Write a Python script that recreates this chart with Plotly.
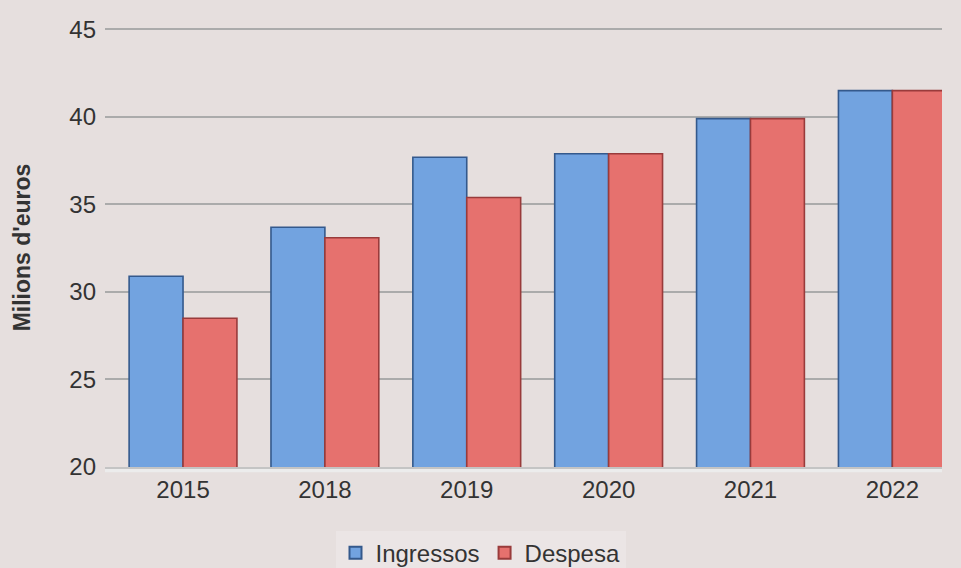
import plotly.graph_objects as go

years = ["2015", "2018", "2019", "2020", "2021", "2022"]
ingressos = [30.9, 33.7, 37.7, 37.9, 39.9, 41.5]
despesa = [28.5, 33.1, 35.4, 37.9, 39.9, 41.5]
y_ticks = [20, 25, 30, 35, 40, 45]

BG = "#e6dfde"
FONT = "Liberation Sans, Arial, sans-serif"

fig = go.Figure()
fig.add_trace(go.Bar(
    name="Ingressos", x=years, y=ingressos,
    marker=dict(color="#72a3e0", line=dict(color="#34598c", width=1.6)),
))
fig.add_trace(go.Bar(
    name="Despesa", x=years, y=despesa,
    marker=dict(color="#e6716e", line=dict(color="#993b3b", width=1.6)),
))

fig.update_layout(
    width=961, height=568,
    paper_bgcolor=BG, plot_bgcolor=BG,
    margin=dict(l=105, r=19, t=28, b=101, autoexpand=False),
    barmode="group", bargap=0.24, bargroupgap=0.0,
    font=dict(family=FONT, size=24, color="#333333"),
    showlegend=True,
    legend=dict(
        orientation="h", xref="container", x=0.5, xanchor="center",
        yref="container", y=0.026, yanchor="middle",
        bgcolor="#ebe5e5", font=dict(size=24, color="#333333"),
        itemsizing="constant", traceorder="normal",
    ),
    xaxis=dict(
        type="category", range=[-0.55, 5.35],
        showgrid=False, showline=True, linecolor="#c4c4c4", linewidth=2,
        ticks="", tickfont=dict(size=24, color="#333333"),
    ),
    yaxis=dict(
        range=[20, 45.08], tickvals=y_ticks,
        showgrid=True, gridcolor="#ababab", gridwidth=2,
        zeroline=False, showline=False, ticks="", ticklabelstandoff=8,
        tickfont=dict(size=24, color="#333333"),
        title=dict(text="<b>Milions d'euros</b>", font=dict(size=23, color="#333333"), standoff=32),
    ),
)

# floor of the plot
fig.add_shape(type="rect", xref="paper", yref="paper", x0=0, x1=1, y0=-0.012, y1=0.0,
              fillcolor="#ececec", line=dict(width=0), layer="below")

fig.write_html("out.html", config={"displayModeBar": False},
               post_script="document.body.style.margin='0';")
